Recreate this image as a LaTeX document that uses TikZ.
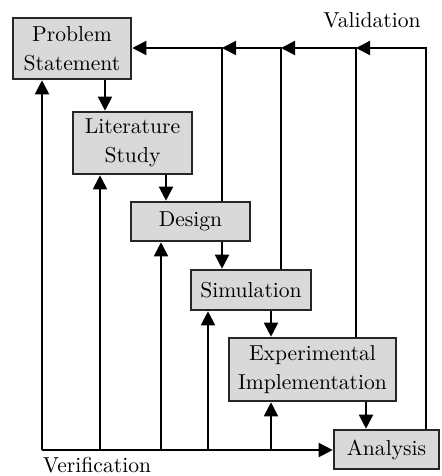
\documentclass[tikz,border=0pt]{standalone}
\usetikzlibrary{arrows.meta}
\begin{document}
\begin{tikzpicture}[x=0.5pt,y=-0.5pt,
  stagebox/.style={draw=black!85,line width=1.3pt,fill=black!15,inner sep=0pt,align=center,
    font=\fontsize{10.8}{14.5}\selectfont},
  arr/.style={line width=1pt,-{Triangle[length=7pt,width=7pt]}},
  lbl/.style={font=\fontsize{10.8}{14.5}\selectfont,inner sep=0pt}]
\useasboundingbox (0,0) rectangle (442,476);
% boxes
\node[stagebox,minimum width=59pt,minimum height=30.5pt] (PS) at (72,48.5) {Problem\\Statement};
\node[stagebox,minimum width=59.5pt,minimum height=31pt] (Lit) at (132.5,143) {Literature\\Study};
\node[stagebox,minimum width=59.5pt,minimum height=19.5pt] (Des) at (190.5,221.5) {Design};
\node[stagebox,minimum width=60pt,minimum height=20pt] (Sim) at (251,290) {Simulation};
\node[stagebox,minimum width=83.5pt,minimum height=31.5pt] (Exp) at (312.5,369.5) {Experimental\\Implementation};
\node[stagebox,minimum width=52.5pt,minimum height=19.5pt] (Ana) at (386.5,449.5) {Analysis};
% labels
\node[lbl] (val) at (372,20) {Validation};
\node[lbl] (ver) at (97,465) {Verification};
% coordinates
\coordinate (v1) at (222,48);
\coordinate (v2) at (281,48);
\coordinate (v3) at (356,48);
\coordinate (v4) at (426,48);
\coordinate (h0) at (42,450);
\coordinate (h1) at (100,450);
\coordinate (h2) at (161,450);
\coordinate (h3) at (208,450);
\coordinate (h4) at (271,450);
\coordinate (d1) at (105,0);
\coordinate (d2) at (166,0);
\coordinate (d3) at (222,0);
\coordinate (d4) at (271,0);
\coordinate (d5) at (366,0);
% forward flow
\draw[arr] (PS.south -| d1) -- (Lit.north -| d1);
\draw[arr] (Lit.south -| d2) -- (Des.north -| d2);
\draw[arr] (Des.south -| d3) -- (Sim.north -| d3);
\draw[arr] (Sim.south -| d4) -- (Exp.north -| d4);
\draw[arr] (Exp.south -| d5) -- (Ana.north -| d5);
% validation
\draw[arr] (Ana.north -| v4) -- (v4) -- (v3);
\draw[arr] (Exp.north -| v3) -- (v3) -- (v2);
\draw[arr] (Sim.north -| v2) -- (v2) -- (v1);
\draw[arr] (Des.north -| v1) -- (v1) -- (PS.east |- v1);
% verification
\draw[arr] (h0) -- (PS.south -| h0);
\draw[arr] (h0) -- (Ana.west |- h0);
\draw[arr] (h1) -- (Lit.south -| h1);
\draw[arr] (h2) -- (Des.south -| h2);
\draw[arr] (h3) -- (Sim.south -| h3);
\draw[arr] (h4) -- (Exp.south -| h4);
\end{tikzpicture}
\end{document}
